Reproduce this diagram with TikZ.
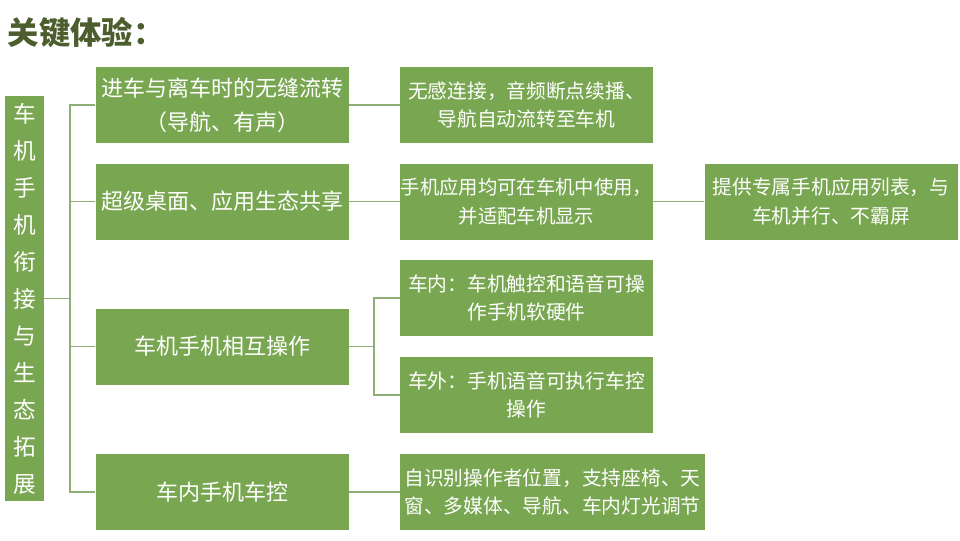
\documentclass[tikz,border=0pt]{standalone}
\usepackage{fontspec}
\newfontfamily\cjk{Noto Sans CJK SC}
\definecolor{boxgreen}{RGB}{121,167,81}
\definecolor{linkgreen}{RGB}{143,174,117}
\definecolor{titlegray}{RGB}{76,94,46}
\tikzset{
    greenbox/.style={fill=boxgreen, text=white, align=center, inner sep=0pt,
        font=\cjk\fontsize{14.8}{21.5}\selectfont, minimum width=189.75pt, minimum height=57pt},
    bigbox/.style={greenbox, font=\cjk\fontsize{16.5}{25.5}\selectfont},
    link/.style={linkgreen, line width=1pt}
}
\begin{document}
\begin{tikzpicture}[x=0.75pt, y=-0.75pt]
    \useasboundingbox (0,0) rectangle (960,540);

    % Title
    \node[anchor=west, text=titlegray, font=\cjk\bfseries\fontsize{23.5}{28}\selectfont] (title) at (3,33) {关键体验：};

    % Left box
    \node[greenbox, minimum width=29.25pt, minimum height=303.75pt, font=\cjk\fontsize{17}{27.75}\selectfont] (lb) at (24.5,298.5)
        {车\\机\\手\\机\\衔\\接\\与\\生\\态\\拓\\展};

    % First level
    \node[bigbox] (b1) at (222,105) {进车与离车时的无缝流转\\（导航、有声）};
    \node[bigbox] (b2) at (222,201.5) {超级桌面、应用生态共享};
    \node[bigbox] (b3) at (222,346.5) {车机手机相互操作};
    \node[bigbox] (b4) at (222,492) {车内手机车控};

    % Second level
    \node[greenbox] (c1) at (526.5,105) {无感连接，音频断点续播、\\导航自动流转至车机};
    \node[greenbox, font=\cjk\fontsize{14.5}{21.5}\selectfont] (c2) at (526.5,201.5) {手机应用均可在车机中使用，\\并适配车机显示};
    \node[greenbox] (c3) at (526.5,298) {车内：车机触控和语音可操\\作手机软硬件};
    \node[greenbox] (c4) at (526.5,395) {车外：手机语音可执行车控\\操作};
    \node[greenbox, minimum width=228.75pt] (c5) at (552.5,492) {自识别操作者位置，支持座椅、天\\窗、多媒体、导航、车内灯光调节};

    % Third level
    \node[greenbox] (d1) at (831,201.5) {提供专属手机应用列表，与\\车机并行、不霸屏};

    % Connectors
    \coordinate (trunk) at (70,298.5);
    \coordinate (fork) at (374,346.5);
    \draw[link] (lb.east) -- (trunk);
    \foreach \n in {b1,b2,b3,b4} {
        \draw[link] (\n.west) -| (trunk);
    }
    \draw[link] (b1) -- (c1);
    \draw[link] (b2) -- (c2);
    \draw[link] (c2) -- (d1);
    \draw[link] (b3.east) -- (fork);
    \foreach \n in {c3,c4} {
        \draw[link] (\n.west) -| (fork);
    }
    \draw[link] (b4.east) -- (c5.west);
\end{tikzpicture}
\end{document}
